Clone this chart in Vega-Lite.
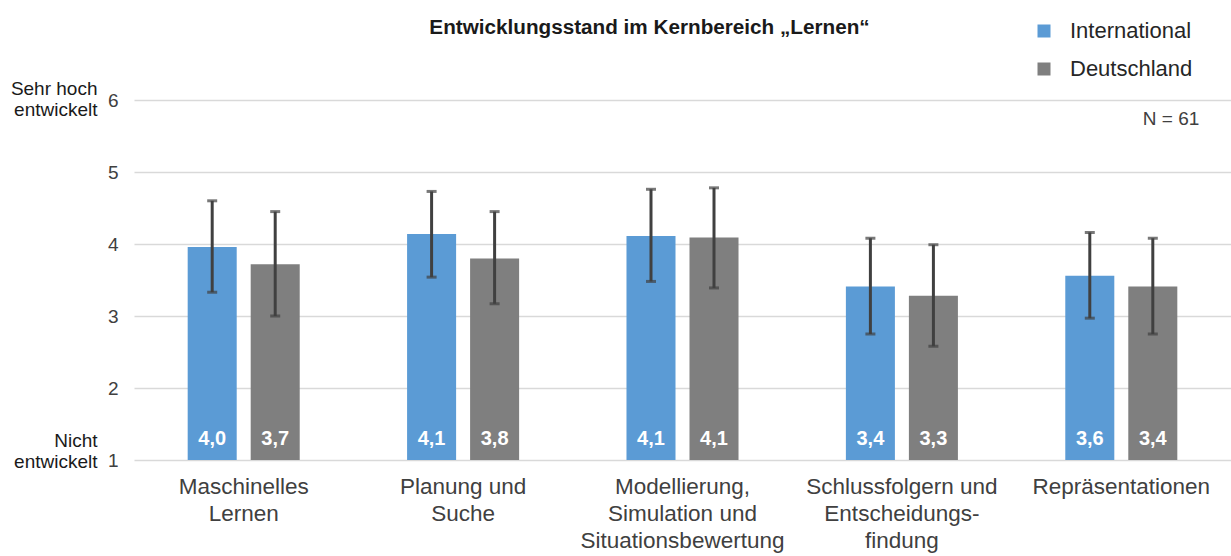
{
  "$schema": "https://vega.github.io/schema/vega-lite/v6.json",
  "width": 1097,
  "height": 360,
  "autosize": {"type": "none"},
  "padding": {"left": 134, "top": 100, "right": 0, "bottom": 96},
  "background": "white",
  "title": {
    "text": "Entwicklungsstand im Kernbereich „Lernen“",
    "font": "Liberation Sans",
    "fontSize": 20.7,
    "fontWeight": "bold",
    "color": "#1a1a1a",
    "anchor": "middle",
    "frame": "group",
    "dx": -33,
    "offset": 0,
    "dy": 19
  },
  "data": {
    "values": [
      {"cat": "Maschinelles Lernen", "series": "International", "value": 3.96, "lo": 3.33, "hi": 4.60},
      {"cat": "Maschinelles Lernen", "series": "Deutschland", "value": 3.72, "lo": 3.00, "hi": 4.45},
      {"cat": "Planung und Suche", "series": "International", "value": 4.14, "lo": 3.54, "hi": 4.73},
      {"cat": "Planung und Suche", "series": "Deutschland", "value": 3.80, "lo": 3.17, "hi": 4.45},
      {"cat": "Modellierung, Simulation und Situationsbewertung", "series": "International", "value": 4.11, "lo": 3.48, "hi": 4.76},
      {"cat": "Modellierung, Simulation und Situationsbewertung", "series": "Deutschland", "value": 4.09, "lo": 3.39, "hi": 4.78},
      {"cat": "Schlussfolgern und Entscheidungsfindung", "series": "International", "value": 3.41, "lo": 2.75, "hi": 4.08},
      {"cat": "Schlussfolgern und Entscheidungsfindung", "series": "Deutschland", "value": 3.28, "lo": 2.58, "hi": 3.99},
      {"cat": "Repräsentationen", "series": "International", "value": 3.56, "lo": 2.97, "hi": 4.16},
      {"cat": "Repräsentationen", "series": "Deutschland", "value": 3.41, "lo": 2.75, "hi": 4.08}
    ]
  },
  "encoding": {
    "x": {
      "field": "cat",
      "type": "nominal",
      "sort": null,
      "scale": {"paddingInner": 0, "paddingOuter": 0},
      "axis": {
        "title": null,
        "labelAngle": 0,
        "ticks": false,
        "domain": false,
        "labelPadding": 15,
        "labelFont": "Liberation Sans",
        "labelFontSize": 22.5,
        "labelLineHeight": 27,
        "labelColor": "#404040",
        "labelLimit": 400,
        "labelOverlap": false,
        "labelBaseline": "top",
        "labelExpr": "datum.value == 'Maschinelles Lernen' ? ['Maschinelles','Lernen'] : datum.value == 'Planung und Suche' ? ['Planung und','Suche'] : datum.value == 'Modellierung, Simulation und Situationsbewertung' ? ['Modellierung,','Simulation und','Situationsbewertung'] : datum.value == 'Schlussfolgern und Entscheidungsfindung' ? ['Schlussfolgern und','Entscheidungs-','findung'] : datum.value"
      }
    },
    "xOffset": {
      "field": "series",
      "type": "nominal",
      "sort": ["International", "Deutschland"],
      "scale": {"paddingInner": 0.222, "paddingOuter": 0.852}
    }
  },
  "layer": [
    {
      "mark": {"type": "bar"},
      "encoding": {
        "y": {
          "field": "value",
          "type": "quantitative",
          "scale": {"domain": [1, 6], "nice": false, "zero": false},
          "axis": {
            "title": null,
            "values": [1, 2, 3, 4, 5, 6],
            "grid": true,
            "gridColor": "#d9d9d9",
            "gridWidth": 1.5,
            "domain": false,
            "ticks": false,
            "labelPadding": 16,
            "labelFont": "Liberation Sans",
            "labelFontSize": 19,
            "labelColor": "#404040"
          }
        },
        "y2": {"datum": 1},
        "color": {
          "field": "series",
          "type": "nominal",
          "sort": ["International", "Deutschland"],
          "scale": {"domain": ["International", "Deutschland"], "range": ["#5b9bd5", "#7f7f7f"]},
          "legend": {
            "title": null,
            "orient": "none",
            "legendX": 899,
            "legendY": -80,
            "padding": 0,
            "symbolType": "square",
            "symbolSize": 169,
            "symbolStrokeWidth": 0,
            "labelFont": "Liberation Sans",
            "labelFontSize": 22,
            "labelColor": "#262626",
            "labelOffset": 15,
            "rowPadding": 16
          }
        }
      }
    },
    {
      "mark": {"type": "text", "font": "Liberation Sans", "fontSize": 20, "fontWeight": "bold", "color": "white", "baseline": "middle", "dy": -21},
      "encoding": {
        "y": {"datum": 1, "type": "quantitative", "axis": null},
        "text": {"field": "value", "type": "quantitative", "format": ".1f"}
      }
    },
    {
      "mark": {"type": "rule", "color": "#404040", "strokeWidth": 3},
      "encoding": {
        "y": {
          "field": "lo",
          "type": "quantitative",
          "axis": {
            "title": null,
            "orient": "left",
            "values": [1, 6],
            "grid": false,
            "domain": false,
            "ticks": false,
            "labelAlign": "right",
            "labelBaseline": "middle",
            "labelPadding": 37,
            "labelFont": "Liberation Sans",
            "labelFontSize": 19,
            "labelLineHeight": 21,
            "labelColor": "#1a1a1a",
            "labelOffset": {"condition": {"test": "datum.value == 6", "value": -12}, "value": -19.5},
            "labelExpr": "datum.value == 6 ? ['Sehr hoch','entwickelt'] : ['Nicht','entwickelt']"
          }
        },
        "y2": {"field": "hi"}
      }
    },
    {
      "mark": {"type": "tick", "color": "#404040", "thickness": 3, "size": 10},
      "encoding": {
        "y": {"field": "lo", "type": "quantitative", "axis": null}
      }
    },
    {
      "mark": {"type": "tick", "color": "#404040", "thickness": 3, "size": 10},
      "encoding": {
        "y": {"field": "hi", "type": "quantitative", "axis": null}
      }
    },
    {
      "data": {"values": [{"cat": "Repräsentationen", "note": "N = 61"}]},
      "mark": {"type": "text", "font": "Liberation Sans", "fontSize": 19, "color": "#404040", "align": "right", "baseline": "middle", "dx": 78, "dy": 19},
      "encoding": {
        "xOffset": null,
        "y": {"datum": 6, "type": "quantitative", "axis": null},
        "text": {"field": "note"}
      }
    }
  ],
  "resolve": {"axis": {"y": "independent"}},
  "config": {
    "view": {"stroke": null},
    "locale": {"number": {"decimal": ",", "thousands": ".", "grouping": [3], "currency": ["", " €"]}}
  }
}
